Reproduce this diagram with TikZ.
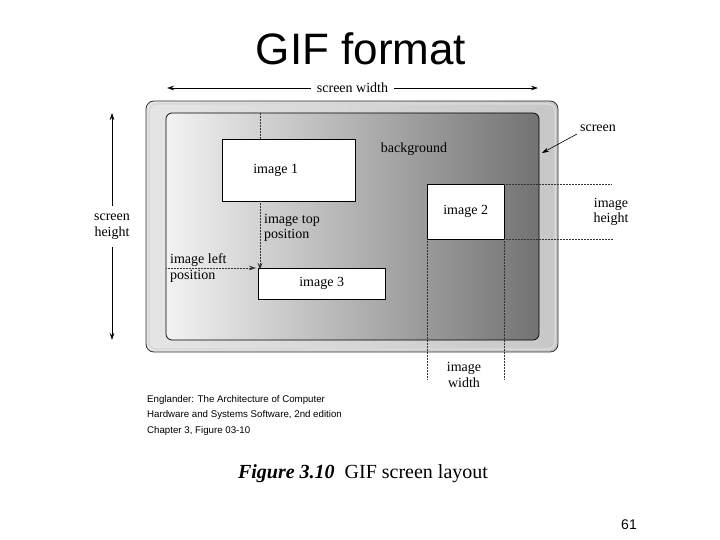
\documentclass[tikz,border=0pt]{standalone}
\usepackage{fontspec}
\setmainfont{Liberation Serif}
\newfontfamily\arialfont{Liberation Sans}
\usetikzlibrary{arrows.meta}
\begin{document}
\begin{tikzpicture}[x=1pt,y=-1pt]
    \tikzset{img/.style = {draw=black,fill=white,inner sep=0pt,anchor=north west,font=\fontsize{14}{15}\selectfont}, lbl/.style = {font=\fontsize{14}{15.5}\selectfont,align=center,inner sep=0pt}, dots/.style = {densely dotted,line width=.5pt,black!80}, dim/.style = {{Stealth[length=7pt,width=4.5pt]}-{Stealth[length=7pt,width=4.5pt]},line width=.6pt}, tip/.style = {-{Stealth[length=7pt,width=4.5pt]}}}
    \useasboundingbox (0,0) rectangle (720,540);
    % title
    \node[font=\arialfont\fontsize{44}{48}\selectfont,inner sep=0pt] (title) at (361,49) {GIF format};
    % screen and background
    \draw[black!80,line width=.8pt,rounded corners=8pt,left color=black!10,right color=black!22] (146,101) rectangle (558,352);
    \draw[white!85!black,line width=1.5pt,rounded corners=7pt] (149,104) rectangle (555,349);
    \draw[black,line width=.7pt,rounded corners=6pt,left color=black!5,right color=black!55] (166,113) rectangle (539,340);
    % images
    \node[img,minimum width=133pt,minimum height=62pt] (im1) at (222,139) {image 1\hspace*{26pt}};
    \node[img,minimum width=77pt,minimum height=55pt] (im2) at (427,184) {image 2};
    \node[img,minimum width=127pt,minimum height=31pt] (im3) at (258,268) {image 3};
    \node[lbl] (bg) at (414,149) {background};
    % screen width and height
    \coordinate (swl) at (167,88);
    \coordinate (swr) at (538,88);
    \draw[dim] (swl) -- (swr) node[midway,fill=white,lbl,inner xsep=6pt] (sw) {screen width};
    \coordinate (sht) at (112,113);
    \coordinate (shb) at (112,340);
    \draw[dim] (sht) -- (shb) node[midway,fill=white,lbl,inner ysep=8pt] (sh) {screen\\height};
    % screen pointer
    \node[lbl] (scr) at (598,128) {screen};
    \coordinate (scrtip) at (542,153);
    \draw[tip,line width=.6pt] (577,134) -- (scrtip);
    % image top position
    \coordinate (tp) at (260,113);
    \draw[dots] (tp) -- (tp |- im1.north);
    \draw[dots,tip] (tp |- im1.south) -- ([yshift=-2pt]tp |- im3.north);
    \node[lbl,align=left,anchor=west] (itp) at (264,228) {image top\\position};
    % image left position
    \coordinate (lp) at (166,268);
    \draw[dots,tip] (lp) -- (256,268);
    \node[lbl,align=left,anchor=west] (ilp) at (170,268) {image left\\position};
    % image 2 size
    \draw[dots] (im2.north east) -- ++(108,0);
    \draw[dots] (im2.south east) -- ++(109,0);
    \draw[dots] (im2.south west) -- ++(0,141);
    \draw[dots] (im2.south east) -- ++(0,141);
    \node[lbl] (ih) at (611,212) {image\\height};
    \node[lbl] (iw) at (464,375) {image\\width};
    % source and caption
    \node[font=\arialfont\fontsize{9.7}{15.5}\selectfont,align=left,anchor=north west,inner sep=0pt] (src) at (147,395) {Englander: The Architecture of Computer\\Hardware and Systems Software, 2nd edition\\Chapter 3, Figure 03-10};
    \node[font=\fontsize{20}{22}\selectfont,inner sep=0pt] (cap) at (363,474) {\textbf{\textit{Figure 3.10}}\ \ GIF screen layout};
    \node[font=\arialfont\fontsize{14}{16}\selectfont,inner sep=0pt] (pg) at (629,525) {61};
\end{tikzpicture}
\end{document}
